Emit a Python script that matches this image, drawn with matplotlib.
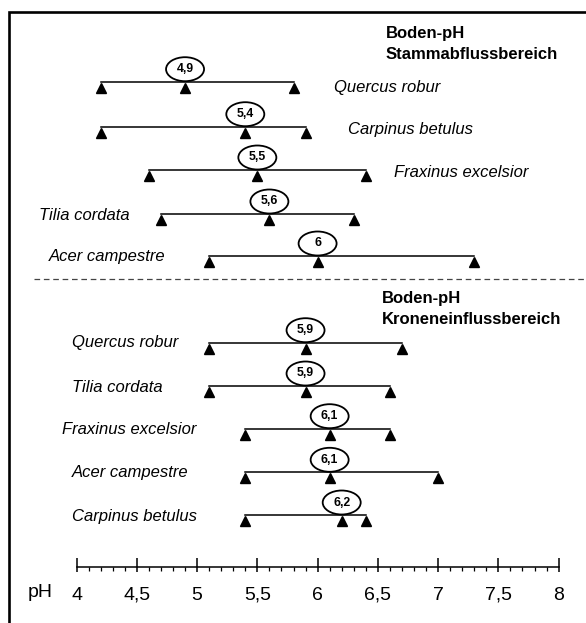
import matplotlib
matplotlib.use("Agg")
import matplotlib.pyplot as plt
from matplotlib.patches import Ellipse, Rectangle
import numpy as np

plt.rcParams['font.family'] = ['Liberation Sans', 'DejaVu Sans']

# Stammabflussbereich (upper block)
upper_species = ['Quercus robur', 'Carpinus betulus', 'Fraxinus excelsior',
                 'Tilia cordata', 'Acer campestre']
upper_min = [4.2, 4.2, 4.6, 4.7, 5.1]
upper_median = [4.9, 5.4, 5.5, 5.6, 6.0]
upper_max = [5.8, 5.9, 6.4, 6.3, 7.3]
upper_median_labels = ['4,9', '5,4', '5,5', '5,6', '6']

# Kroneneinflussbereich (lower block)
lower_species = ['Quercus robur', 'Tilia cordata', 'Fraxinus excelsior',
                 'Acer campestre', 'Carpinus betulus']
lower_min = [5.1, 5.1, 5.4, 5.4, 5.4]
lower_median = [5.9, 5.9, 6.1, 6.1, 6.2]
lower_max = [6.7, 6.6, 6.6, 7.0, 6.4]
lower_median_labels = ['5,9', '5,9', '6,1', '6,1', '6,2']

ph_ticks = [4, 4.5, 5, 5.5, 6, 6.5, 7, 7.5, 8]
ph_tick_labels = ['4', '4,5', '5', '5,5', '6', '6,5', '7', '7,5', '8']

# layout (pixels, y downwards)
W, H = 586, 623
X0_PX, PX_PER_PH = 76.6, 120.5
upper_rows = [81.7, 126.7, 170, 214, 256]
upper_label_x = [334, 347.5, 393.5, 39, 48.6]
upper_label_dy = [5.5, 2.5, 2.5, 1, 0.5]
lower_rows = [342.7, 386, 428.7, 472.3, 515]
lower_label_x = [72, 72, 61.7, 72, 72]
lower_label_dy = [0, 1.3, 1.3, 0, 1.5]
axis_y = 566.7


def px2ph(px):
    return 4 + (px - X0_PX) / PX_PER_PH


fig = plt.figure(figsize=(W / 100, H / 100), dpi=100)
ax = fig.add_axes([0, 0, 1, 1])
ax.set_xlim(px2ph(0), px2ph(W))
ax.set_ylim(H, 0)
ax.axis('off')

# frame (runs off the right and bottom edges)
fig.add_artist(Rectangle((8.7 / W, -0.2), 2, 1 - 12 / H + 0.2, fill=False,
                         lw=1.9, ec='black', transform=fig.transFigure))

ell_w = 38 / PX_PER_PH
ell_h = 24


def draw_block(rows, mins, meds, maxs, med_labels, species, lab_x, lab_dy):
    for y, lo, md, hi, ml, sp, lx, dy in zip(rows, mins, meds, maxs, med_labels,
                                             species, lab_x, lab_dy):
        ax.plot([lo, hi], [y, y], color='black', lw=1.1, zorder=2)
        ax.plot([lo, md, hi], [y + 6] * 3, linestyle='none', marker='^',
                ms=6.7, color='black', zorder=3)
        ax.add_patch(Ellipse((md, y - 12.5), ell_w, ell_h, fc='white',
                             ec='black', lw=1.3, zorder=4))
        ax.text(md, y - 12.5, ml, ha='center', va='center', fontsize=8.8,
                fontweight='bold', zorder=5)
        ax.text(px2ph(lx), y + dy, sp, ha='left', va='center', fontsize=12,
                style='italic')


draw_block(upper_rows, upper_min, upper_median, upper_max, upper_median_labels,
           upper_species, upper_label_x, upper_label_dy)
draw_block(lower_rows, lower_min, lower_median, lower_max, lower_median_labels,
           lower_species, lower_label_x, lower_label_dy)

ax.text(px2ph(386), 33.5, 'Boden-pH', fontsize=12, fontweight='bold', va='center')
ax.text(px2ph(386), 54.5, 'Stammabflussbereich', fontsize=12,
        fontweight='bold', va='center')
ax.text(px2ph(382), 298, 'Boden-pH', fontsize=12, fontweight='bold', va='center')
ax.text(px2ph(382), 319.5, 'Kroneneinflussbereich', fontsize=12,
        fontweight='bold', va='center')

ax.plot([px2ph(34), px2ph(W)], [279.3, 279.3], color='#444444', lw=0.9,
        dashes=(4.5, 3))

# pH scale
ax.plot([ph_ticks[0], ph_ticks[-1]], [axis_y, axis_y], color='black', lw=1.1)
minor = np.round(np.arange(4.0, 8.01, 0.1), 1)
minor = [m for m in minor if m not in ph_ticks]
ax.vlines(minor, axis_y, axis_y + 4, color='black', lw=0.9)
ax.vlines(ph_ticks, axis_y - 8.5, axis_y + 5, color='black', lw=1.1)
for t, lab in zip(ph_ticks, ph_tick_labels):
    ax.text(t, axis_y + 28.5, lab, ha='center', va='center', fontsize=14)
ax.text(px2ph(40.5), axis_y + 26, 'pH', ha='center', va='center', fontsize=14)

fig.savefig('out.png', dpi=100)
